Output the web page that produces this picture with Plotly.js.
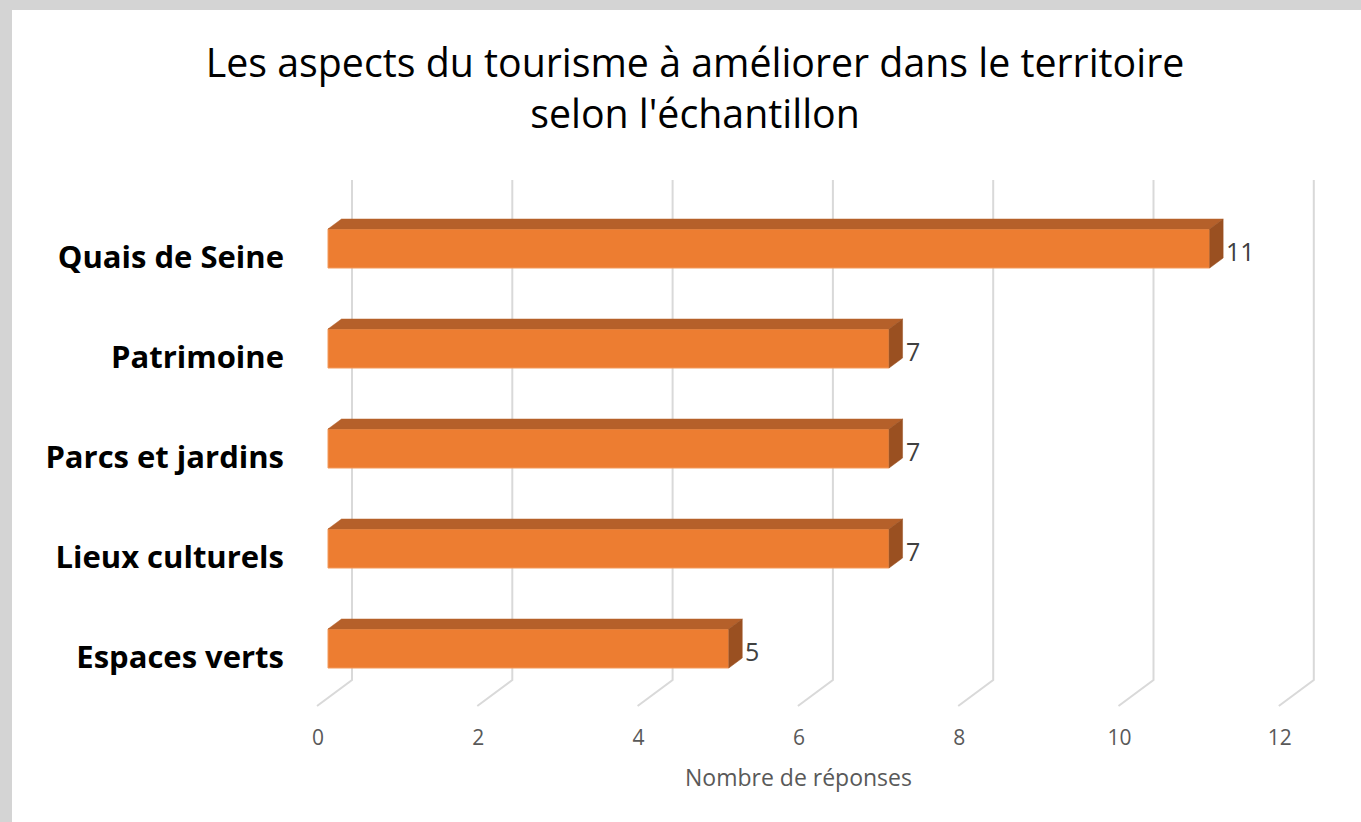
<!DOCTYPE html>
<html><head><meta charset="utf-8">
<script src="https://cdn.plot.ly/plotly-3.0.1.min.js"></script>
<style>
html,body{margin:0;padding:0;background:#d4d4d4;width:1361px;height:822px;overflow:hidden}
#chart{position:absolute;left:12px;top:10px;width:1349px;height:812px;background:#fff}
</style>
</head><body><div id="chart"></div>
<script>
// ---- data ----
const categories = ['Espaces verts', 'Lieux culturels', 'Parcs et jardins', 'Patrimoine', 'Quais de Seine'];
const values = [5, 7, 7, 7, 11];
const tickValues = [0, 2, 4, 6, 8, 10, 12];
const tickLabels = ['0', '2', '4', '6', '8', '10', '12'];
const chartTitle = "Les aspects du tourisme à améliorer dans le territoire<br>selon l'échantillon";
const xAxisTitle = 'Nombre de réponses';

// ---- geometry / style ----
const PXU = 80.15;          // px per value unit
const PYU = 100;            // px per category
const depthX = 13.5 / PXU;  // 3D depth offset
const depthY = 10 / PYU;
const barW = 0.39;
const backShift = 24 / PXU;   // back wall gridlines
const floorShift = -11 / PXU; // front floor tick
const front = '#ED7D31', topC = '#B5602A', sideC = '#9A5021';
const FONT = '"Open Sans", "Noto Sans", sans-serif';

const idx = categories.map((_, i) => i);
const traces = [];

traces.push({
  type: 'bar', orientation: 'h', x: values, y: idx, width: barW,
  marker: {color: front, line: {color: '#F29A5C', width: 1}},
  hoverinfo: 'skip'
});

values.forEach((v, i) => {
  const yt = i + barW / 2, yb = i - barW / 2;
  traces.push({
    type: 'scatter', mode: 'lines', fill: 'toself', fillcolor: topC,
    line: {color: topC, width: 0.5},
    x: [0, v, v + depthX, depthX, 0], y: [yt, yt, yt + depthY, yt + depthY, yt],
    hoverinfo: 'skip', showlegend: false
  });
  traces.push({
    type: 'scatter', mode: 'lines', fill: 'toself', fillcolor: sideC,
    line: {color: sideC, width: 0.5},
    x: [v, v, v + depthX, v + depthX, v], y: [yb, yt, yt + depthY, yb + depthY, yb],
    hoverinfo: 'skip', showlegend: false
  });
});

const yTopGrid = (648.5 - 180) / PYU;
const yBackBottom = (648.5 - 680) / PYU;
const yFloor = (648.5 - 706) / PYU;

const shapes = tickValues.map(t => ({
  type: 'path', layer: 'below', xref: 'x', yref: 'y',
  path: `M ${t + backShift} ${yTopGrid} L ${t + backShift} ${yBackBottom} L ${t + floorShift} ${yFloor}`,
  line: {color: '#D9D9D9', width: 2}
}));

const annotations = values.map((v, i) => ({
  xref: 'x', yref: 'y', x: v + depthX + 1 / PXU, y: i - 0.02,
  xanchor: 'left', yanchor: 'middle', showarrow: false,
  text: String(v), font: {family: FONT, size: 25, color: '#404040'}
}));
annotations.push({
  xref: 'x', yref: 'paper',
  x: (tickValues[0] + tickValues[tickValues.length - 1]) / 2 + floorShift + 1 / PXU,
  y: -0.0996, xanchor: 'center', yanchor: 'middle', showarrow: false,
  text: xAxisTitle, font: {family: FONT, size: 23, color: '#595959'}
});

const layout = {
  width: 1349, height: 812,
  margin: {l: 288, r: 16, t: 160, b: 100},
  paper_bgcolor: '#ffffff', plot_bgcolor: 'rgba(0,0,0,0)',
  showlegend: false,
  title: {
    text: chartTitle, x: 683 / 1349, xanchor: 'center', xref: 'container',
    y: 1 - 67 / 812, yanchor: 'top', yref: 'container',
    font: {family: FONT, size: 39.3, color: '#000000'}
  },
  xaxis: {
    range: [(300 - 328) / PXU, (1345 - 328) / PXU],
    tickvals: tickValues, ticktext: tickLabels,
    showgrid: false, zeroline: false, showline: false, ticks: '',
    ticklabelshift: -10, ticklabelstandoff: 1,
    tickfont: {family: FONT, size: 21, color: '#595959'}
  },
  yaxis: {
    range: [(648.5 - 722) / PYU, (648.5 - 170) / PYU],
    tickvals: idx, ticktext: categories,
    showgrid: false, zeroline: false, showline: false, ticks: '',
    ticklabelshift: 9, ticklabelstandoff: 15,
    tickfont: {family: FONT, size: 31, color: '#000000', weight: 'bold'}
  },
  shapes: shapes,
  annotations: annotations
};

Plotly.newPlot('chart', traces, layout, {displayModeBar: false, staticPlot: true});
</script>
</body></html>
